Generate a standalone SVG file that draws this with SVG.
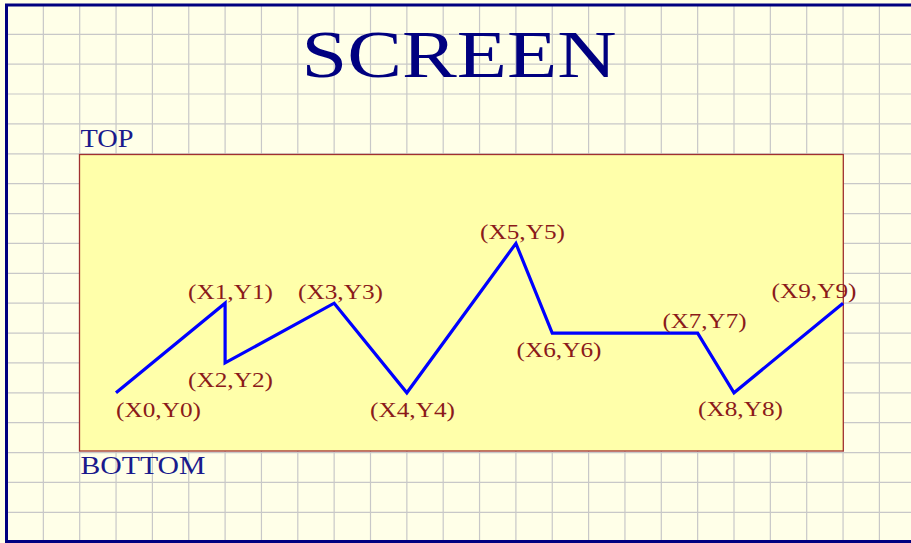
<svg xmlns="http://www.w3.org/2000/svg" width="911" height="543" viewBox="0 0 911 543">
<defs>
<style>
.grid line{stroke:#c8c8c8;stroke-width:1.2}
.lbl{font-family:"Liberation Serif","Times New Roman",serif;font-size:21px;fill:#8b1a1a}
.edge{font-family:"Liberation Serif","Times New Roman",serif;font-size:25.5px;fill:#1a1a8c}
.title{font-family:"Liberation Serif","Times New Roman",serif;font-size:68px;fill:#000080}
</style>
</defs>
<rect x="0" y="0" width="911" height="543" fill="#ffffe8"/>
<g class="grid">
<line x1="43.35" y1="5" x2="43.35" y2="542"/>
<line x1="79.7" y1="5" x2="79.7" y2="542"/>
<line x1="116.05" y1="5" x2="116.05" y2="542"/>
<line x1="152.4" y1="5" x2="152.4" y2="542"/>
<line x1="188.75" y1="5" x2="188.75" y2="542"/>
<line x1="225.1" y1="5" x2="225.1" y2="542"/>
<line x1="261.45" y1="5" x2="261.45" y2="542"/>
<line x1="297.8" y1="5" x2="297.8" y2="542"/>
<line x1="334.15" y1="5" x2="334.15" y2="542"/>
<line x1="370.5" y1="5" x2="370.5" y2="542"/>
<line x1="406.85" y1="5" x2="406.85" y2="542"/>
<line x1="443.2" y1="5" x2="443.2" y2="542"/>
<line x1="479.55" y1="5" x2="479.55" y2="542"/>
<line x1="515.9" y1="5" x2="515.9" y2="542"/>
<line x1="552.25" y1="5" x2="552.25" y2="542"/>
<line x1="588.6" y1="5" x2="588.6" y2="542"/>
<line x1="624.95" y1="5" x2="624.95" y2="542"/>
<line x1="661.3" y1="5" x2="661.3" y2="542"/>
<line x1="697.65" y1="5" x2="697.65" y2="542"/>
<line x1="734" y1="5" x2="734" y2="542"/>
<line x1="770.35" y1="5" x2="770.35" y2="542"/>
<line x1="806.7" y1="5" x2="806.7" y2="542"/>
<line x1="843.05" y1="5" x2="843.05" y2="542"/>
<line x1="879.4" y1="5" x2="879.4" y2="542"/>
<line x1="6" y1="34.3" x2="911" y2="34.3"/>
<line x1="6" y1="64.2" x2="911" y2="64.2"/>
<line x1="6" y1="94.0" x2="911" y2="94.0"/>
<line x1="6" y1="123.9" x2="911" y2="123.9"/>
<line x1="6" y1="153.8" x2="911" y2="153.8"/>
<line x1="6" y1="183.7" x2="911" y2="183.7"/>
<line x1="6" y1="213.6" x2="911" y2="213.6"/>
<line x1="6" y1="243.4" x2="911" y2="243.4"/>
<line x1="6" y1="273.3" x2="911" y2="273.3"/>
<line x1="6" y1="303.2" x2="911" y2="303.2"/>
<line x1="6" y1="333.1" x2="911" y2="333.1"/>
<line x1="6" y1="362.9" x2="911" y2="362.9"/>
<line x1="6" y1="392.8" x2="911" y2="392.8"/>
<line x1="6" y1="422.7" x2="911" y2="422.7"/>
<line x1="6" y1="452.6" x2="911" y2="452.6"/>
<line x1="6" y1="482.4" x2="911" y2="482.4"/>
<line x1="6" y1="512.3" x2="911" y2="512.3"/>
</g>
<path d="M911,5 H6.5 V541.5 H911" fill="none" stroke="#000080" stroke-width="3"/>
<g id="title"><text class="title" x="301.5" y="77" textLength="315" lengthAdjust="spacingAndGlyphs">SCREEN</text></g>
<g id="screen-area">
<rect x="79.5" y="154.5" width="763.8" height="296.5" fill="#ffffaa" stroke="#a03030" stroke-width="1.3"/>
<text class="edge" x="80.5" y="147" textLength="53" lengthAdjust="spacingAndGlyphs">TOP</text>
<text class="edge" x="80.5" y="474" textLength="125" lengthAdjust="spacingAndGlyphs">BOTTOM</text>
</g>
<g id="connectors">
<polyline points="116,392.8 225.1,303.2 225.1,362.9 334.15,303.2 406.85,392.8 515.9,243.4 552.25,333.1 697.65,333.1 734,392.8 843.05,303.2" fill="none" stroke="#0000ff" stroke-width="3.2" stroke-linejoin="miter"/>
</g>
<g id="labels">
<text id="p0" class="lbl" x="116" y="417" textLength="85" lengthAdjust="spacingAndGlyphs">(X0,Y0)</text>
<text id="p1" class="lbl" x="188" y="299" textLength="85" lengthAdjust="spacingAndGlyphs">(X1,Y1)</text>
<text id="p2" class="lbl" x="188" y="387" textLength="85" lengthAdjust="spacingAndGlyphs">(X2,Y2)</text>
<text id="p3" class="lbl" x="298" y="299" textLength="85" lengthAdjust="spacingAndGlyphs">(X3,Y3)</text>
<text id="p4" class="lbl" x="370" y="417" textLength="85" lengthAdjust="spacingAndGlyphs">(X4,Y4)</text>
<text id="p5" class="lbl" x="480" y="239" textLength="85" lengthAdjust="spacingAndGlyphs">(X5,Y5)</text>
<text id="p6" class="lbl" x="516.5" y="357" textLength="85" lengthAdjust="spacingAndGlyphs">(X6,Y6)</text>
<text id="p7" class="lbl" x="662.5" y="328" textLength="84" lengthAdjust="spacingAndGlyphs">(X7,Y7)</text>
<text id="p8" class="lbl" x="698" y="416" textLength="85" lengthAdjust="spacingAndGlyphs">(X8,Y8)</text>
<text id="p9" class="lbl" x="771.5" y="298" textLength="85" lengthAdjust="spacingAndGlyphs">(X9,Y9)</text>
</g>
</svg>
